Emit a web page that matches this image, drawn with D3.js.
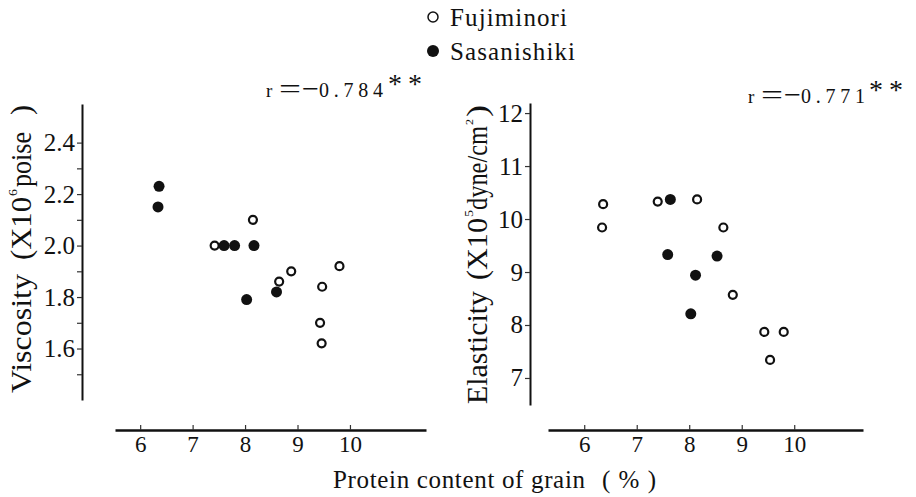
<!DOCTYPE html>
<html><head><meta charset="utf-8">
<script src="https://cdn.jsdelivr.net/npm/d3@7"></script>
<style>
html,body{margin:0;padding:0;background:#fff;}
svg{display:block;}
text{font-family:"Liberation Serif","DejaVu Serif",serif;fill:#111;}
</style></head>
<body>
<script>
// ---- data ----
const fujiVisc = [[7.42,2.00],[8.15,2.10],[8.65,1.86],[8.88,1.90],[9.47,1.84],[9.43,1.70],[9.46,1.62],[9.80,1.92]];
const sasaVisc = [[6.36,2.23],[6.34,2.15],[7.60,2.00],[7.80,2.00],[8.17,2.00],[8.03,1.79],[8.60,1.82]];
const fujiElast = [[6.36,10.28],[6.34,9.84],[7.40,10.33],[8.15,10.37],[8.65,9.84],[8.83,8.57],[9.43,7.87],[9.80,7.87],[9.54,7.34]];
const sasaElast = [[7.64,10.37],[7.59,9.33],[8.53,9.30],[8.12,8.94],[8.03,8.21]];
const xTicks = [6,7,8,9,10];
const viscTicks = [1.5,1.6,1.7,1.8,1.9,2.0,2.1,2.2,2.3,2.4];
const viscLabels = [1.6,1.8,2.0,2.2,2.4];
const elastTicks = [7,8,9,10,11,12];
const rLeft = "0.784", rRight = "0.771";
const legendNames = ["Fujiminori","Sasanishiki"];

const W=916,H=497;
const svg=d3.select("body").append("svg").attr("width",W).attr("height",H);

function panel(o){
  const x=d3.scaleLinear().domain(o.xd).range(o.xr);
  const y=d3.scaleLinear().domain(o.yd).range(o.yr);
  const gx=svg.append("g").attr("transform",`translate(0,${o.xAxisY})`)
    .call(d3.axisBottom(x).tickValues(xTicks).tickSize(-5).tickSizeOuter(0).tickPadding(6).tickFormat(d3.format("d")));
  gx.select(".domain").attr("stroke","#111").attr("stroke-width",2.5);
  gx.selectAll(".tick line").attr("stroke","#333").attr("stroke-width",1.2);
  gx.selectAll(".tick text").attr("font-size",23).attr("fill","#111");
  const gy=svg.append("g").attr("transform",`translate(${o.yAxisX},0)`)
    .call(d3.axisLeft(y).tickValues(o.yTicks).tickSize(5).tickSizeOuter(0).tickPadding(2)
      .tickFormat(o.yFmt));
  gy.select(".domain").attr("stroke","#111").attr("stroke-width",2);
  gy.selectAll(".tick line").attr("stroke","#333").attr("stroke-width",1.2);
  gy.selectAll(".tick text").attr("font-size",25).attr("fill","#111");
  svg.append("g").selectAll("circle").data(o.open).join("circle")
    .attr("cx",d=>x(d[0])).attr("cy",d=>y(d[1])).attr("r",4)
    .attr("fill","#fff").attr("stroke","#111").attr("stroke-width",2.2);
  svg.append("g").selectAll("circle").data(o.filled).join("circle")
    .attr("cx",d=>x(d[0])).attr("cy",d=>y(d[1])).attr("r",5.5)
    .attr("fill","#111");
}

panel({xd:[5.52,11.45],xr:[115,426],yd:[1.40,2.55],yr:[400,104],xAxisY:430,yAxisX:82,
  yTicks:viscTicks,yFmt:d=>viscLabels.some(v=>Math.abs(v-d)<1e-6)?d3.format(".1f")(d):"",
  open:fujiVisc,filled:sasaVisc});
panel({xd:[5.31,11.31],xr:[548,863],yd:[6.49,12.19],yr:[405,103],xAxisY:430,yAxisX:530,
  yTicks:elastTicks,yFmt:d3.format("d"),open:fujiElast,filled:sasaElast});

// legend
svg.append("circle").attr("cx",433).attr("cy",17).attr("r",5).attr("fill","#fff").attr("stroke","#111").attr("stroke-width",1.5);
svg.append("circle").attr("cx",433).attr("cy",51).attr("r",6).attr("fill","#111");
svg.append("text").attr("x",450).attr("y",26).attr("font-size",25).attr("textLength",117).text(legendNames[0]);
svg.append("text").attr("x",450).attr("y",60).attr("font-size",25).attr("textLength",125).text(legendNames[1]);

// r annotations
function rText(x,y,val,ax,ay){
  svg.append("text").attr("x",x).attr("y",y).attr("font-size",19).text("r");
  svg.append("text").attr("x",x+13).attr("y",y+1).attr("font-size",28).attr("textLength",22).attr("lengthAdjust","spacingAndGlyphs").text("=");
  svg.append("text").attr("x",x+36).attr("y",y+1).attr("font-size",28).attr("textLength",17).attr("lengthAdjust","spacingAndGlyphs").text("−");
  svg.append("text").attr("x",x+53).attr("y",y).attr("font-size",20).attr("textLength",64).text(val);
  svg.append("text").attr("x",ax).attr("y",ay).attr("font-size",28).attr("textLength",34).text("* *");
}
rText(266,97,rLeft,388,93);
rText(748,103,rRight,869,99);

// y titles (rotated)
function yTitle(cx,bottom,parts){
  const g=svg.append("g").attr("transform",`translate(${cx},${bottom}) rotate(-90)`);
  parts.forEach(p=>{
    g.append("text").attr("x",p.s).attr("y",p.dy||0).attr("font-size",p.fs||29)
      .attr("textLength",p.len).attr("lengthAdjust","spacingAndGlyphs").text(p.t);
  });
}
yTitle(31,393,[{t:"Viscosity",s:0,len:119},{t:"(X10",s:133,len:63},{t:"6",s:197,len:7,fs:13,dy:-14},{t:"poise",s:206,len:55},{t:")",s:278,len:10}]);
yTitle(487,404,[{t:"Elasticity",s:0,len:113},{t:"(X10",s:124,len:62},{t:"5",s:187,len:7,fs:13,dy:-14},{t:"dyne/cm",s:194,len:84},{t:"2",s:279,len:6,fs:11,dy:-14},{t:")",s:287,len:12}]);

// x title
svg.append("text").attr("x",333).attr("y",488).attr("font-size",25).attr("textLength",252).text("Protein content of grain");
svg.append("text").attr("x",602).attr("y",488).attr("font-size",25).attr("textLength",54).text("(%)");
</script>
</body></html>
